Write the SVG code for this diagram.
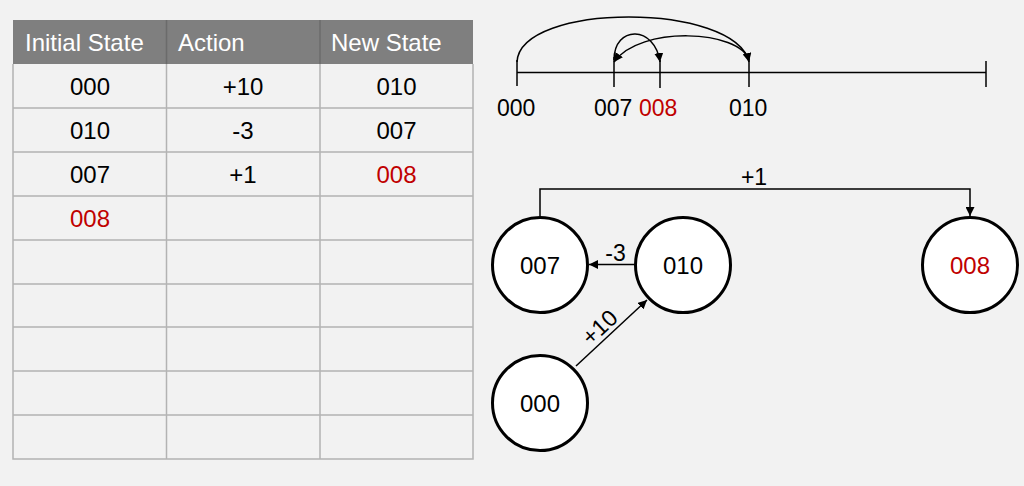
<svg xmlns="http://www.w3.org/2000/svg" width="1024" height="486" viewBox="0 0 1024 486">
  <style>
    text { font-family: "Liberation Sans", Arial, sans-serif; fill: #000; }
    .hdr { font-size: 24px; fill: #fff; }
    .cell { font-size: 24px; text-anchor: middle; }
    .lbl { font-size: 23px; }
    .node-text { font-size: 24px; text-anchor: middle; }
    .edge-text { font-size: 23px; text-anchor: middle; }
    .red { fill: #c00000; }
    .grid { stroke: #b3b3b3; stroke-width: 1.5; fill: none; }
    .axis { stroke: #000; stroke-width: 1.5; fill: none; }
    .node { fill: #fff; stroke: #000; stroke-width: 3; }
    .edge { stroke: #000; stroke-width: 1.5; fill: none; }
  </style>
  <defs>
    <marker id="arrow" viewBox="0 0 10 10" refX="10" refY="5" markerWidth="9" markerHeight="9" markerUnits="userSpaceOnUse" orient="auto">
      <path d="M0,0 L10,5 L0,10 z" fill="#000"/>
    </marker>
  </defs>

  <rect width="1024" height="486" fill="#f2f2f2"/>

  <!-- State table -->
  <g id="table">
    <rect x="13" y="20" width="460" height="44" fill="#7f7f7f"/>
    <line x1="166.5" y1="20" x2="166.5" y2="64" stroke="#6b6b6b" stroke-width="1.5"/>
    <line x1="320" y1="20" x2="320" y2="64" stroke="#6b6b6b" stroke-width="1.5"/>
    <path class="grid" d="M13,64 V459 H473 V64 M166.5,64 V459 M320,64 V459
      M13,108 H473 M13,152 H473 M13,196 H473 M13,240 H473 M13,284 H473
      M13,327 H473 M13,371 H473 M13,415 H473"/>
    <text class="hdr" x="25" y="51">Initial State</text>
    <text class="hdr" x="178" y="51">Action</text>
    <text class="hdr" x="331" y="51">New State</text>

    <text class="cell" x="90" y="95">000</text>
    <text class="cell" x="243" y="95">+10</text>
    <text class="cell" x="396.5" y="95">010</text>

    <text class="cell" x="90" y="139">010</text>
    <text class="cell" x="243" y="139">-3</text>
    <text class="cell" x="396.5" y="139">007</text>

    <text class="cell" x="90" y="183">007</text>
    <text class="cell" x="243" y="183">+1</text>
    <text class="cell red" x="396.5" y="183">008</text>

    <text class="cell red" x="90" y="227">008</text>
  </g>

  <!-- Number line -->
  <g id="number-line">
    <line class="axis" x1="517" y1="72.5" x2="986" y2="72.5"/>
    <line class="axis" x1="517" y1="60" x2="517" y2="86"/>
    <line class="axis" x1="614" y1="57" x2="614" y2="87"/>
    <line class="axis" x1="660" y1="60" x2="660" y2="88"/>
    <line class="axis" x1="749" y1="57" x2="749" y2="87"/>
    <line class="axis" x1="986" y1="61" x2="986" y2="87"/>
    <text class="lbl" x="497" y="116">000</text>
    <text class="lbl" x="594" y="116">007</text>
    <text class="lbl red" x="639" y="116">008</text>
    <text class="lbl" x="729" y="116">010</text>
  </g>
  <g id="number-line-jumps">
    <path class="edge" d="M517,62 C520,2 735,2 749,62" marker-end="url(#arrow)"/>
    <path class="edge" d="M749,60 C740,30 640,25 614,62" marker-end="url(#arrow)"/>
    <path class="edge" d="M614,60 C614,25 655,25 660,62" marker-end="url(#arrow)"/>
  </g>

  <!-- State graph nodes -->
  <g id="node-007">
    <circle class="node" cx="540" cy="265" r="47.5"/>
    <text class="node-text" x="540" y="273.5">007</text>
  </g>
  <g id="node-010">
    <circle class="node" cx="683" cy="265" r="47.5"/>
    <text class="node-text" x="683" y="273.5">010</text>
  </g>
  <g id="node-008">
    <circle class="node" cx="970" cy="265" r="47.5"/>
    <text class="node-text red" x="970" y="273.5">008</text>
  </g>
  <g id="node-000">
    <circle class="node" cx="540" cy="403" r="47.5"/>
    <text class="node-text" x="540" y="411.5">000</text>
  </g>

  <!-- State graph connectors -->
  <g id="connectors">
    <path class="edge" d="M540,216 V189 H970 V216" marker-end="url(#arrow)"/>
    <text class="edge-text" x="754" y="185">+1</text>
    <path class="edge" d="M634,264.5 H589" marker-end="url(#arrow)"/>
    <text class="edge-text" x="615.5" y="261">-3</text>
    <path class="edge" stroke-width="1.2" d="M576,366 L647,300" marker-end="url(#arrow)"/>
    <text class="edge-text" transform="translate(605,333) rotate(-43)" x="0" y="0">+10</text>
  </g>
</svg>
